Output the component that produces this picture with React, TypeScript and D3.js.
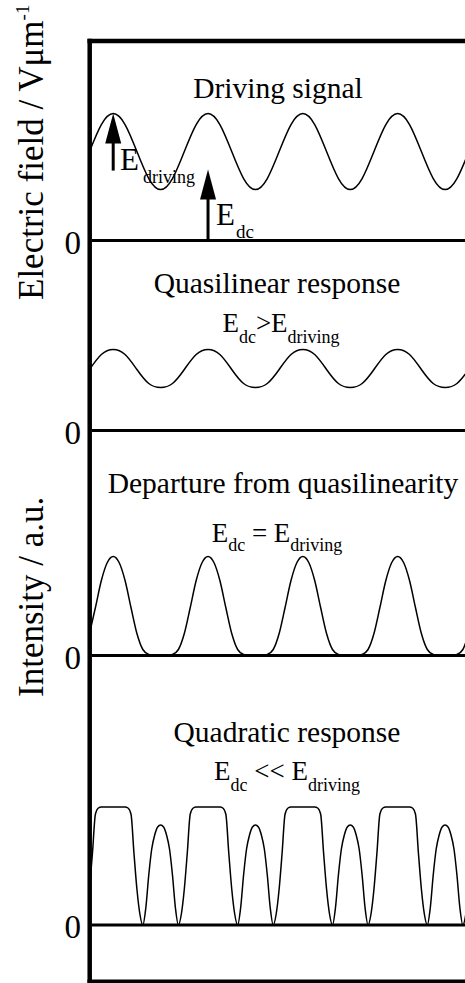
import React from "react";
import * as d3 from "d3";

// sample spacing of each series, in driving periods
const STEP_COARSE = 1 / 8;
const STEP_MID = 1 / 16;
const STEP_FINE = 1 / 32;

// driving field, V/um (dc offset + ac)
const drivingField = [
  2.34, 3.05, 3.34, 3.05, 2.34, 1.63, 1.34, 1.63,
  2.34, 3.05, 3.34, 3.05, 2.34, 1.63, 1.34, 1.63,
  2.34, 3.05, 3.34, 3.05, 2.34, 1.63, 1.34, 1.63,
  2.34, 3.05, 3.34, 3.05, 2.34, 1.63, 1.34, 1.63,
  2.34,
];

// intensities, a.u.
const quasilinearIntensity = [
  0.61, 0.76, 0.81, 0.76, 0.61, 0.47, 0.43, 0.47,
  0.61, 0.76, 0.81, 0.76, 0.61, 0.47, 0.43, 0.47,
  0.61, 0.76, 0.81, 0.76, 0.61, 0.47, 0.43, 0.47,
  0.61, 0.76, 0.81, 0.76, 0.61, 0.47, 0.43, 0.47,
  0.61,
];

const departureIntensity = [
  0.22, 0.48, 0.75, 0.93, 0.99, 0.93, 0.75, 0.48, 0.22, 0.06, 0.01, 0, 0, 0, 0.01, 0.06,
  0.22, 0.48, 0.75, 0.93, 0.99, 0.93, 0.75, 0.48, 0.22, 0.06, 0.01, 0, 0, 0, 0.01, 0.06,
  0.22, 0.48, 0.75, 0.93, 0.99, 0.93, 0.75, 0.48, 0.22, 0.06, 0.01, 0, 0, 0, 0.01, 0.06,
  0.22, 0.48, 0.75, 0.93, 0.99, 0.93, 0.75, 0.48, 0.22, 0.06, 0.01, 0, 0, 0, 0.01, 0.06,
  0.22,
];

const quadraticIntensity = [
  0.36, 0.72, 1.11, 1.17, 1.18, 1.18, 1.18, 1.18, 1.18, 1.18, 1.18, 1.18, 1.18, 1.17, 1.11, 0.72,
  0.36, 0.11, 0.0, 0.17, 0.5, 0.76, 0.9, 0.98, 1.0, 0.98, 0.9, 0.76, 0.5, 0.17, 0.0, 0.11,
  0.36, 0.72, 1.11, 1.17, 1.18, 1.18, 1.18, 1.18, 1.18, 1.18, 1.18, 1.18, 1.18, 1.17, 1.11, 0.72,
  0.36, 0.11, 0.0, 0.17, 0.5, 0.76, 0.9, 0.98, 1.0, 0.98, 0.9, 0.76, 0.5, 0.17, 0.0, 0.11,
  0.36, 0.72, 1.11, 1.17, 1.18, 1.18, 1.18, 1.18, 1.18, 1.18, 1.18, 1.18, 1.18, 1.17, 1.11, 0.72,
  0.36, 0.11, 0.0, 0.17, 0.5, 0.76, 0.9, 0.98, 1.0, 0.98, 0.9, 0.76, 0.5, 0.17, 0.0, 0.11,
  0.36, 0.72, 1.11, 1.17, 1.18, 1.18, 1.18, 1.18, 1.18, 1.18, 1.18, 1.18, 1.18, 1.17, 1.11, 0.72,
  0.36, 0.11, 0.0, 0.17, 0.5, 0.76, 0.9, 0.98, 1.0, 0.98, 0.9, 0.76, 0.5, 0.17, 0.0, 0.11,
  0.36,
];

// arrows on the driving signal: time (periods), from, to (V/um)
const arrowTimes = [0.25, 1.25];
const arrowFrom = [1.84, 0];
const arrowTo = [3.34, 1.87];

const panelTitles = [
  "Driving signal",
  "Quasilinear response",
  "Departure from quasilinearity",
  "Quadratic response",
];
const conditionOps = ["", ">", " = ", " << "];

const W = 465;
const H = 983;
const FONT = "Liberation Serif, DejaVu Serif, serif";

const x = d3.scaleLinear().domain([0, 3.96]).range([89.5, 465]);

// one vertical scale per panel (baseline, px per unit)
const panels = [
  { base: 240.5, unit: 38, values: drivingField, step: STEP_COARSE, curve: d3.curveNatural,
    titleX: 278, titleY: 98, condX: 0, condY: 0, sub: 0 },
  { base: 430.5, unit: 100, values: quasilinearIntensity, step: STEP_COARSE, curve: d3.curveNatural,
    titleX: 277, titleY: 293, condX: 281, condY: 332, sub: 11 },
  { base: 655.5, unit: 100, values: departureIntensity, step: STEP_MID, curve: d3.curveMonotoneX,
    titleX: 283, titleY: 493, condX: 277, condY: 542, sub: 9 },
  { base: 925, unit: 100, values: quadraticIntensity, step: STEP_FINE, curve: d3.curveMonotoneX,
    titleX: 287, titleY: 742, condX: 287, condY: 780, sub: 11 },
];

const App = () => {
  const y0 = d3.scaleLinear().domain([0, 1]).range([panels[0].base, panels[0].base - panels[0].unit]);

  return (
    <svg width={W} height={H} style={{ position: "absolute", left: 0, top: 0, display: "block", fontFamily: FONT }}>
      <rect width={W} height={H} fill="#fff" />

      {panels.map((p, k) => {
        const y = d3.scaleLinear().domain([0, 1]).range([p.base, p.base - p.unit]);
        const line = d3.line<number>()
          .x((_, i) => x(i * p.step))
          .y(v => y(v))
          .curve(p.curve);
        return (
          <g key={k}>
            <path d={line(p.values) || ""} fill="none" stroke="#000" strokeWidth={1.5} />
            <line x1={92} x2={W} y1={y(0)} y2={y(0)} stroke="#000" strokeWidth={3} />
            <text x={81} y={y(0) + 13} fontSize={33} textAnchor="end">0</text>
            <text x={p.titleX} y={p.titleY} fontSize={29.5} textAnchor="middle">{panelTitles[k]}</text>
            {k > 0 && (
              <text x={p.condX} y={p.condY} fontSize={27} textAnchor="middle">
                <tspan>E</tspan>
                <tspan fontSize={18} dy={p.sub}>dc</tspan>
                <tspan dy={-p.sub}>{conditionOps[k]}E</tspan>
                <tspan fontSize={18} dy={p.sub}>driving</tspan>
              </text>
            )}
          </g>
        );
      })}

      {arrowTimes.map((t, i) => {
        const ax = x(t);
        const tip = y0(arrowTo[i]);
        const headLen = 30;
        const headW = 16;
        return (
          <g key={i}>
            <line x1={ax} x2={ax} y1={y0(arrowFrom[i])} y2={tip + headLen - 2} stroke="#000" strokeWidth={3} />
            <polygon points={`${ax},${tip} ${ax - headW / 2},${tip + headLen} ${ax + headW / 2},${tip + headLen}`} fill="#000" />
          </g>
        );
      })}

      <text x={120} y={170} fontSize={31}>
        <tspan>E</tspan>
        <tspan fontSize={18} dy={13} dx={4}>driving</tspan>
      </text>
      <text x={216} y={225} fontSize={31}>
        <tspan>E</tspan>
        <tspan fontSize={19} dy={13} dx={1}>dc</tspan>
      </text>

      <text transform="translate(42.5,300) rotate(-90)" fontSize={35}>
        Electric field / Vμm<tspan fontSize={19} dy={-14}>-1</tspan>
      </text>
      <text transform="translate(42.5,697) rotate(-90)" fontSize={35}>Intensity / a.u.</text>

      <line x1={89.7} x2={89.7} y1={38.7} y2={H} stroke="#000" strokeWidth={4.5} />
      <line x1={87.5} x2={W} y1={41} y2={41} stroke="#000" strokeWidth={4.5} />
      <line x1={87.5} x2={W} y1={981.5} y2={981.5} stroke="#000" strokeWidth={4} />
    </svg>
  );
};

export default App;
